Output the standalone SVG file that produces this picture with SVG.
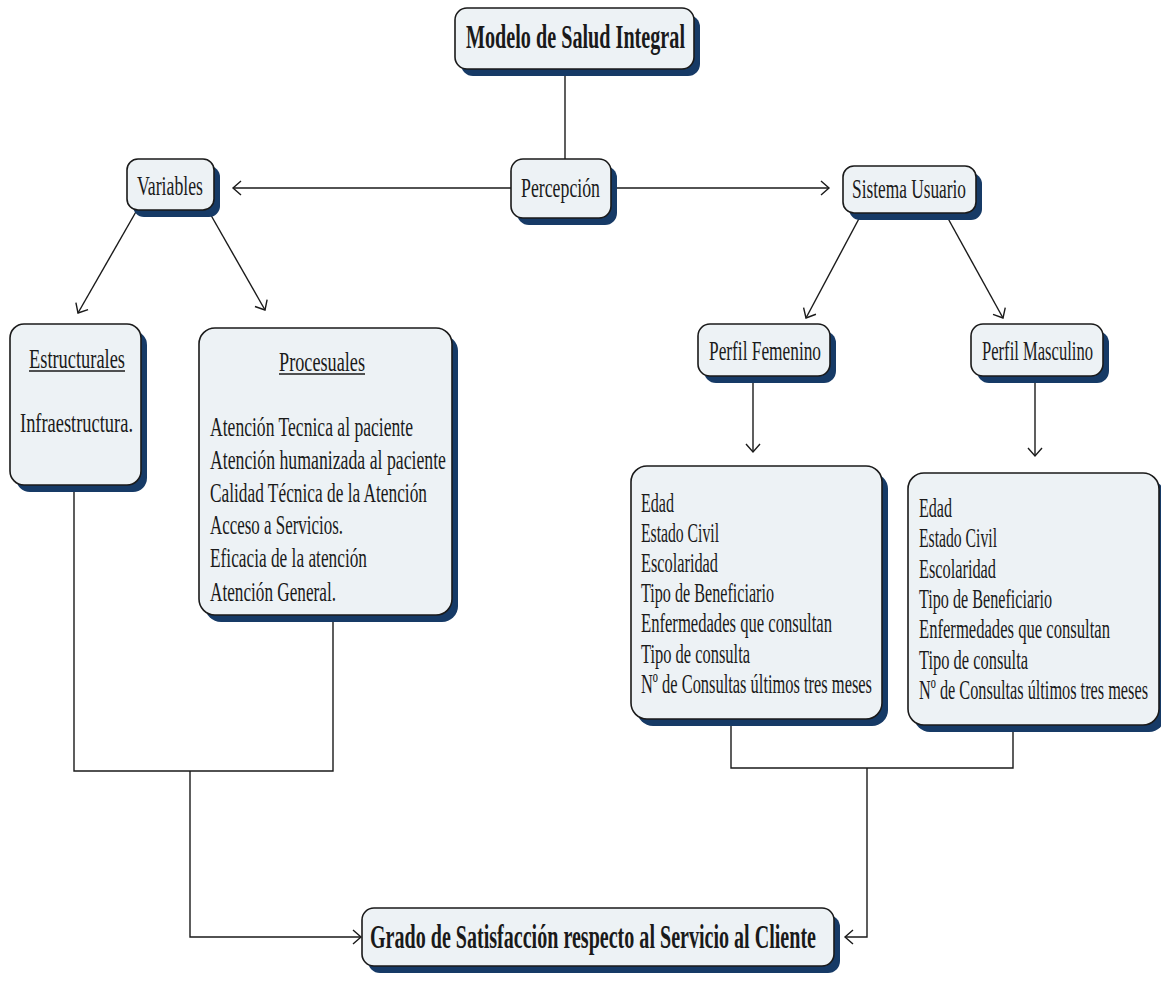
<svg xmlns="http://www.w3.org/2000/svg" width="1161" height="997" viewBox="0 0 1161 997">
<defs>
<marker id="arr" markerUnits="userSpaceOnUse" markerWidth="20" markerHeight="20" viewBox="-10 -10 20 20" refX="0" refY="0" orient="auto">
<path d="M-8,-7 L0,0 L-8,7" fill="none" stroke="#1a1a1a" stroke-width="1.4"/>
</marker>
</defs>
<style>
.bg{fill:#ffffff}
.sh{fill:#163a66}
.bx{fill:#edf2f5;stroke:#1a1a1a;stroke-width:1.6}
.t{font-family:"Liberation Serif","DejaVu Serif",serif;font-size:28px;fill:#1a1a1a}
.tb{font-family:"Liberation Serif","DejaVu Serif",serif;font-size:34px;font-weight:bold;fill:#1a1a1a}
.ln{fill:none;stroke:#1a1a1a;stroke-width:1.4}
.ul{stroke:#1a1a1a;stroke-width:1.3}
</style>
<rect class="bg" x="0" y="0" width="1161" height="997"/>

<g id="connectors">
<line class="ln" x1="565" y1="69" x2="565" y2="159"/>
<line class="ln" x1="511" y1="188" x2="233" y2="188" marker-end="url(#arr)"/>
<line class="ln" x1="611" y1="188" x2="829" y2="188" marker-end="url(#arr)"/>
<line class="ln" x1="137" y1="210" x2="78" y2="313" marker-end="url(#arr)"/>
<line class="ln" x1="208" y1="210" x2="265" y2="310" marker-end="url(#arr)"/>
<line class="ln" x1="862" y1="213" x2="806" y2="318" marker-end="url(#arr)"/>
<line class="ln" x1="945" y1="213" x2="1003" y2="318" marker-end="url(#arr)"/>
<line class="ln" x1="753" y1="376" x2="753" y2="452" marker-end="url(#arr)"/>
<line class="ln" x1="1035" y1="376" x2="1035" y2="456" marker-end="url(#arr)"/>
<path class="ln" d="M74,485 V771 H333 V615"/>
<path class="ln" d="M190,771 V937 H361" marker-end="url(#arr)"/>
<path class="ln" d="M731,719 V768 H1013 V725"/>
<path class="ln" d="M867,768 V937 H845" marker-end="url(#arr)"/>
</g>

<g id="modelo">
<rect class="sh" x="461" y="15" width="239" height="61" rx="12"/>
<rect class="bx" x="455" y="8" width="239" height="61" rx="12"/>
<text class="tb" x="466" y="48" textLength="219" lengthAdjust="spacingAndGlyphs">Modelo de Salud Integral</text>
</g>

<g id="percepcion">
<rect class="sh" x="517" y="166" width="100" height="59" rx="12"/>
<rect class="bx" x="511" y="159" width="100" height="59" rx="12"/>
<text class="t" x="521" y="197" textLength="79" lengthAdjust="spacingAndGlyphs">Percepción</text>
</g>

<g id="variables">
<rect class="sh" x="133" y="166" width="87" height="51" rx="11"/>
<rect class="bx" x="127" y="159" width="87" height="51" rx="11"/>
<text class="t" x="137" y="195" textLength="66" lengthAdjust="spacingAndGlyphs">Variables</text>
</g>

<g id="sistema">
<rect class="sh" x="849" y="173" width="133" height="47" rx="11"/>
<rect class="bx" x="843" y="166" width="133" height="47" rx="11"/>
<text class="t" x="852" y="198" textLength="114" lengthAdjust="spacingAndGlyphs">Sistema Usuario</text>
</g>

<g id="estructurales">
<rect class="sh" x="16" y="331" width="131" height="161" rx="14"/>
<rect class="bx" x="10" y="324" width="131" height="161" rx="14"/>
<text class="t" x="29" y="368" textLength="96" lengthAdjust="spacingAndGlyphs">Estructurales</text>
<line class="ul" x1="29" y1="371" x2="125" y2="371"/>
<text class="t" x="20" y="432" textLength="113" lengthAdjust="spacingAndGlyphs">Infraestructura.</text>
</g>

<g id="procesuales">
<rect class="sh" x="205" y="335" width="253" height="287" rx="16"/>
<rect class="bx" x="199" y="328" width="253" height="287" rx="16"/>
<text class="t" x="279" y="371" textLength="86" lengthAdjust="spacingAndGlyphs">Procesuales</text>
<line class="ul" x1="279" y1="374" x2="365" y2="374"/>
<text class="t" x="210" y="436" textLength="203" lengthAdjust="spacingAndGlyphs">Atención Tecnica al paciente</text>
<text class="t" x="210" y="469" textLength="236" lengthAdjust="spacingAndGlyphs">Atención humanizada al paciente</text>
<text class="t" x="210" y="502" textLength="217" lengthAdjust="spacingAndGlyphs">Calidad Técnica de la Atención</text>
<text class="t" x="210" y="534" textLength="133" lengthAdjust="spacingAndGlyphs">Acceso a Servicios.</text>
<text class="t" x="210" y="567" textLength="157" lengthAdjust="spacingAndGlyphs">Eficacia de la atención</text>
<text class="t" x="210" y="601" textLength="126" lengthAdjust="spacingAndGlyphs">Atención General.</text>
</g>

<g id="perfil-femenino">
<rect class="sh" x="704" y="331" width="132" height="52" rx="12"/>
<rect class="bx" x="698" y="324" width="132" height="52" rx="12"/>
<text class="t" x="709" y="360" textLength="112" lengthAdjust="spacingAndGlyphs">Perfil Femenino</text>
</g>

<g id="perfil-masculino">
<rect class="sh" x="977" y="331" width="132" height="52" rx="12"/>
<rect class="bx" x="971" y="324" width="132" height="52" rx="12"/>
<text class="t" x="982" y="360" textLength="111" lengthAdjust="spacingAndGlyphs">Perfil Masculino</text>
</g>

<g id="femenino-detalle">
<rect class="sh" x="637" y="473" width="251" height="253" rx="16"/>
<rect class="bx" x="631" y="466" width="251" height="253" rx="16"/>
<text class="t" x="641" y="512" textLength="33" lengthAdjust="spacingAndGlyphs">Edad</text>
<text class="t" x="641" y="542" textLength="78" lengthAdjust="spacingAndGlyphs">Estado Civil</text>
<text class="t" x="641" y="572" textLength="77" lengthAdjust="spacingAndGlyphs">Escolaridad</text>
<text class="t" x="641" y="602" textLength="133" lengthAdjust="spacingAndGlyphs">Tipo de Beneficiario</text>
<text class="t" x="641" y="632" textLength="191" lengthAdjust="spacingAndGlyphs">Enfermedades que consultan</text>
<text class="t" x="641" y="663" textLength="109" lengthAdjust="spacingAndGlyphs">Tipo de consulta</text>
<text class="t" x="641" y="693" textLength="231" lengthAdjust="spacingAndGlyphs">Nº de Consultas últimos tres meses</text>
</g>

<g id="masculino-detalle">
<rect class="sh" x="914" y="480" width="251" height="252" rx="16"/>
<rect class="bx" x="908" y="473" width="251" height="252" rx="16"/>
<text class="t" x="919" y="517" textLength="33" lengthAdjust="spacingAndGlyphs">Edad</text>
<text class="t" x="919" y="547" textLength="78" lengthAdjust="spacingAndGlyphs">Estado Civil</text>
<text class="t" x="919" y="578" textLength="77" lengthAdjust="spacingAndGlyphs">Escolaridad</text>
<text class="t" x="919" y="608" textLength="133" lengthAdjust="spacingAndGlyphs">Tipo de Beneficiario</text>
<text class="t" x="919" y="638" textLength="191" lengthAdjust="spacingAndGlyphs">Enfermedades que consultan</text>
<text class="t" x="919" y="669" textLength="109" lengthAdjust="spacingAndGlyphs">Tipo de consulta</text>
<text class="t" x="919" y="699" textLength="229" lengthAdjust="spacingAndGlyphs">Nº de Consultas últimos tres meses</text>
</g>

<g id="grado">
<rect class="sh" x="368" y="915" width="472" height="58" rx="12"/>
<rect class="bx" x="362" y="908" width="472" height="58" rx="12"/>
<text class="tb" x="370" y="948" textLength="446" lengthAdjust="spacingAndGlyphs">Grado de Satisfacción respecto al Servicio al Cliente</text>
</g>
</svg>
